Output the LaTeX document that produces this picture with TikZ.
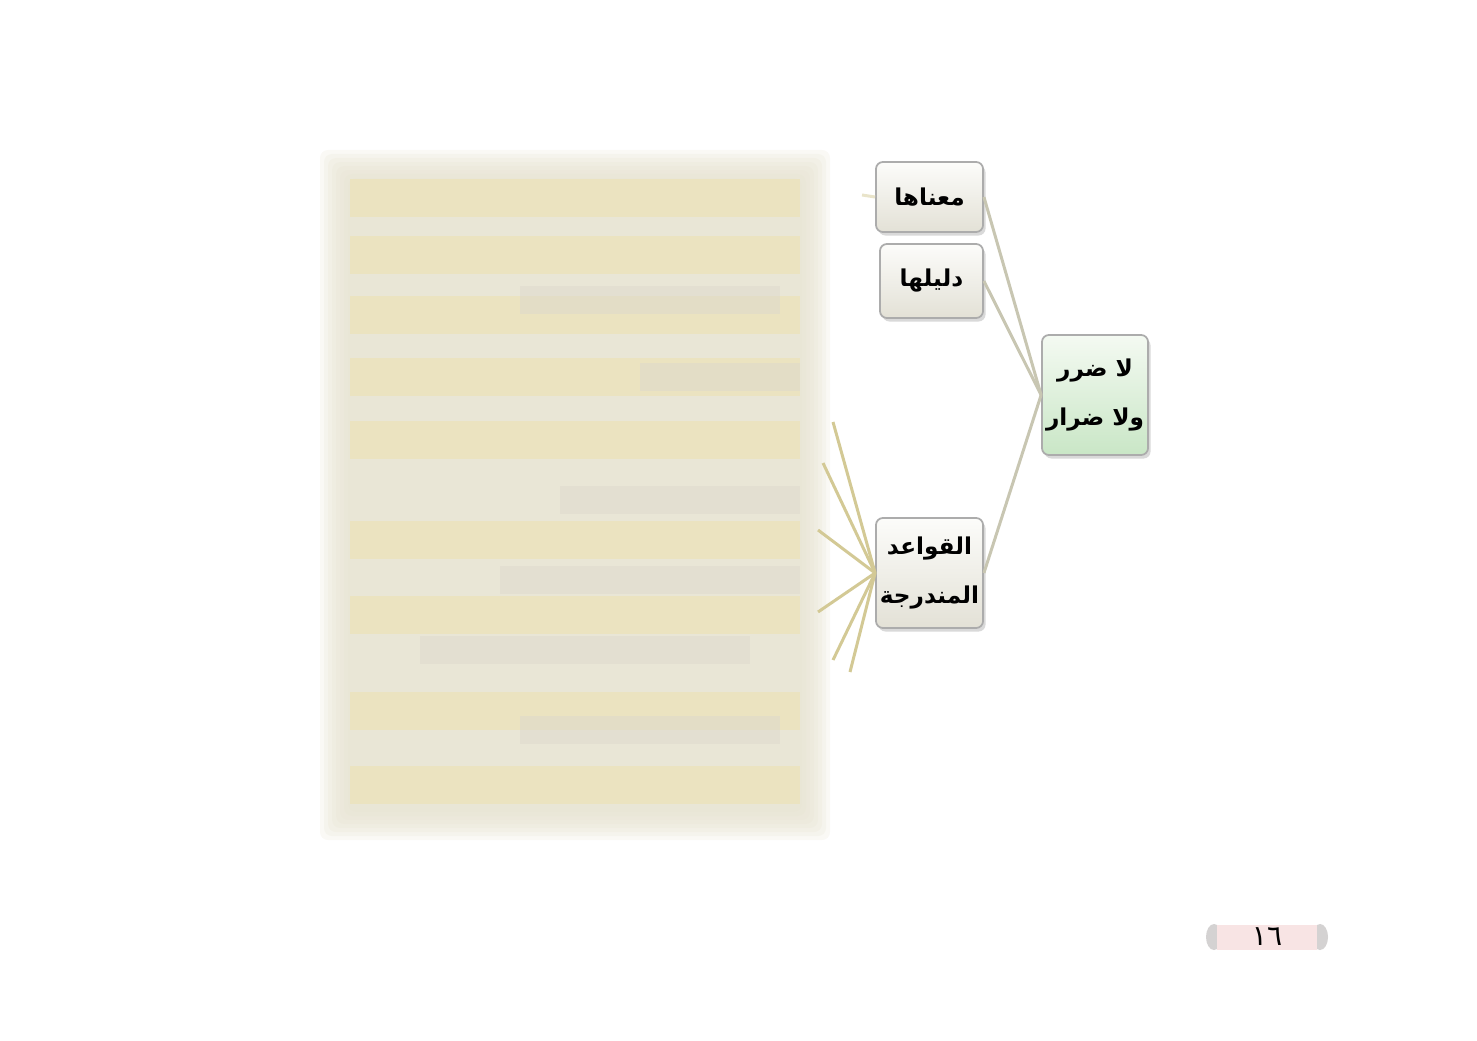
\documentclass[tikz,border=0pt]{standalone}
\usepackage{fontspec}
\usepackage{xcolor}
\newfontfamily\arabicfont[Script=Arabic]{DejaVu Sans}
\TeXXeTstate=1
\usetikzlibrary{positioning}
\usetikzlibrary{calc}
\usetikzlibrary{shadows}
\definecolor{linkgray}{HTML}{C8C6B2}
\definecolor{fankhaki}{HTML}{D3C995}
\definecolor{boxtop}{HTML}{FCFCFA}
\definecolor{boxbottom}{HTML}{E3E1D6}
\definecolor{roottop}{HTML}{F4FAF2}
\definecolor{rootbottom}{HTML}{C9E6C6}
\definecolor{blurbase}{HTML}{E6E2D0}
\definecolor{blurband}{HTML}{ECE2BB}
\definecolor{blurgray}{HTML}{DDDACD}
\definecolor{pagepink}{HTML}{F8E4E4}
\definecolor{lacegray}{HTML}{D4D2D2}
\tikzset{
  topic/.style={draw=gray!65, line width=0.5pt, rounded corners=0.07cm,
    top color=boxtop, bottom color=boxbottom,
    drop shadow={shadow xshift=0.025cm, shadow yshift=-0.035cm, opacity=0.3},
    align=center, inner sep=0pt,
    font=\arabicfont\bfseries\fontsize{6.6}{14}\selectfont},
  rootbox/.style={topic, top color=roottop, bottom color=rootbottom},
  link/.style={draw=linkgray, line width=0.03cm},
  fan/.style={draw=fankhaki, line width=0.03cm},
}

\begin{document}
\begin{tikzpicture}[x=0.01cm, y=-0.01cm]
    \useasboundingbox (0,0) rectangle (1477,1040);

    % blurred panel
    \foreach \k in {0,...,7} {
      \fill[blurbase, opacity=0.22, rounded corners=0.08cm]
        (320+\k*4,150+\k*4) rectangle (830-\k*4,840-\k*4);
    }
    \foreach \y in {198,255,315,377,440,540,615,711,785} {
      \fill[blurband, opacity=0.8] (350,\y-19) rectangle (800,\y+19);
    }
    \foreach \x/\y/\w in {520/300/260,640/377/160,560/500/240,500/580/300,420/650/330,520/730/260} {
      \fill[blurgray, opacity=0.5] (\x,\y-14) rectangle (\x+\w,\y+14);
    }

    \node[rootbox, minimum width=1.06cm, minimum height=1.2cm] (root) at (1095,395)
      {\beginR لا ضرر\endR\\\beginR ولا ضرار\endR};
    \node[topic, minimum width=1.07cm, minimum height=0.7cm] (meaning) at (929.5,197)
      {\beginR معناها\endR};
    \node[topic, minimum width=1.03cm, minimum height=0.74cm] (evidence) at (931.5,281)
      {\beginR دليلها\endR};
    \node[topic, minimum width=1.07cm, minimum height=1.1cm] (rules) at (929.5,573)
      {\beginR القواعد\endR\\\beginR المندرجة\endR};

    \foreach \n in {meaning,evidence,rules} {
      \draw[link] (root.west) -- (\n.east);
    }

    \coordinate (stub) at (862,195);
    \draw[fan, draw=fankhaki!50] (meaning.west) -- (stub);

    \foreach \z/\p in {1/{833,422},2/{823,463},3/{818,530},4/{818,612},5/{833,660},6/{850,672}} {
      \coordinate (fan\z) at (\p);
      \draw[fan] (rules.west) -- (fan\z);
    }

    % page number
    \fill[lacegray] (1214,937) ellipse (0.08cm and 0.13cm);
    \fill[lacegray] (1320,937) ellipse (0.08cm and 0.13cm);
    \node[fill=pagepink, minimum width=1.0cm, minimum height=0.25cm, inner sep=0pt,
      font=\arabicfont\fontsize{8}{10}\selectfont] (pagenum) at (1267,937) {\beginR ١٦\endR};
\end{tikzpicture}
\end{document}
